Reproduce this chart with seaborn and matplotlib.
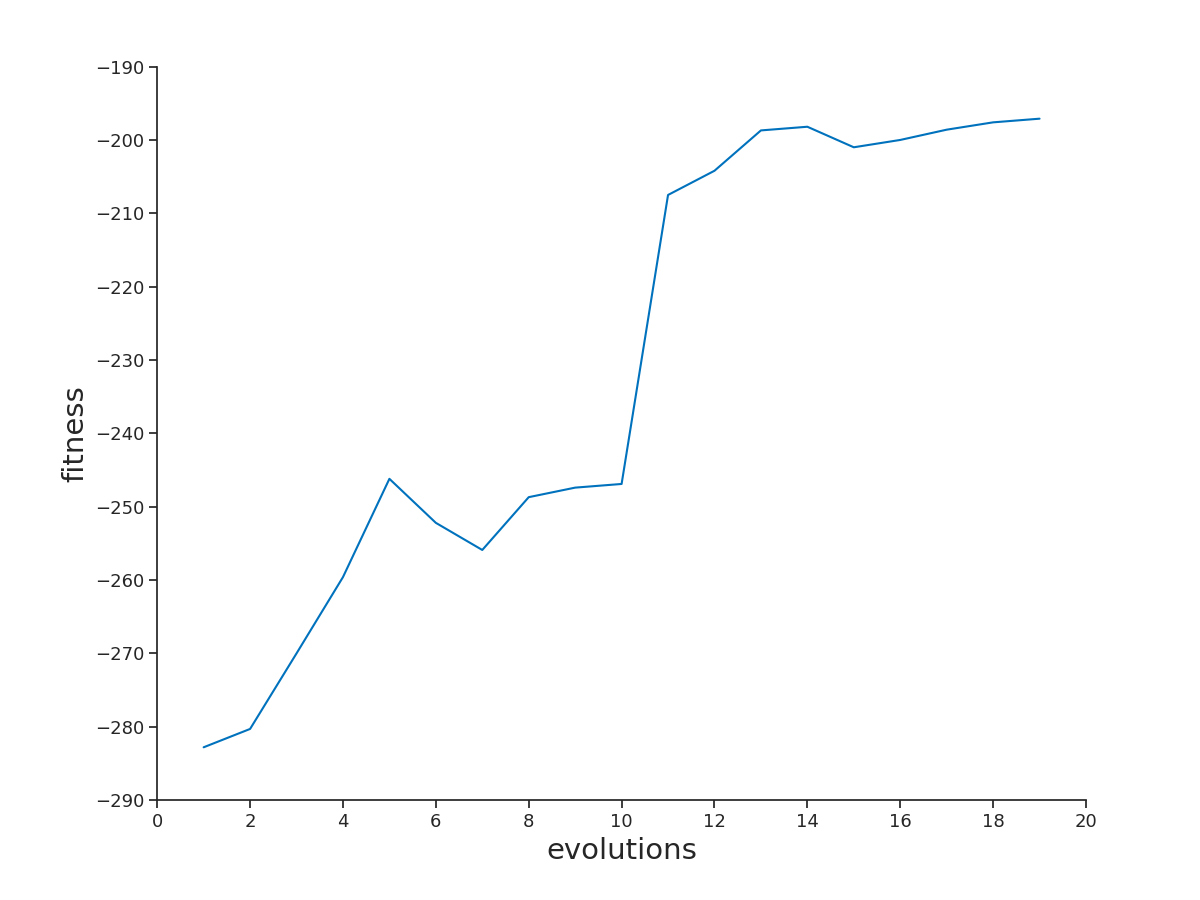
import matplotlib
matplotlib.use("Agg")
import matplotlib.pyplot as plt
import seaborn as sns
import pandas as pd

evolutions = list(range(1, 20))
fitness = [-282.8, -280.3, -270.0, -259.6, -246.2, -252.2, -255.9, -248.7, -247.4, -246.9,
           -207.5, -204.2, -198.7, -198.2, -201.0, -200.0, -198.6, -197.6, -197.1]

sns.set_theme(style="ticks")
plt.rcParams['font.family'] = ['DejaVu Sans']
fig = plt.figure(figsize=(12, 9), dpi=100)
ax = fig.add_axes([0.131, 0.111, 0.774, 0.815])
df = pd.DataFrame({"evolutions": evolutions, "fitness": fitness})
sns.lineplot(data=df, x="evolutions", y="fitness", ax=ax, color="#0072BD", linewidth=1.5)
ax.set_xlim(0, 20)
ax.set_ylim(-290, -190)
ax.set_xticks(range(0, 21, 2))
ax.set_yticks(range(-290, -189, 10))
ax.tick_params(labelsize=13, direction="out", length=6, colors="#262626")
ax.set_xlabel("evolutions", fontsize=21, color="#262626")
ax.set_ylabel("fitness", fontsize=21, color="#262626")
sns.despine(ax=ax)
for s in ["left", "bottom"]:
    ax.spines[s].set_color("#262626")
fig.savefig("out.png")
